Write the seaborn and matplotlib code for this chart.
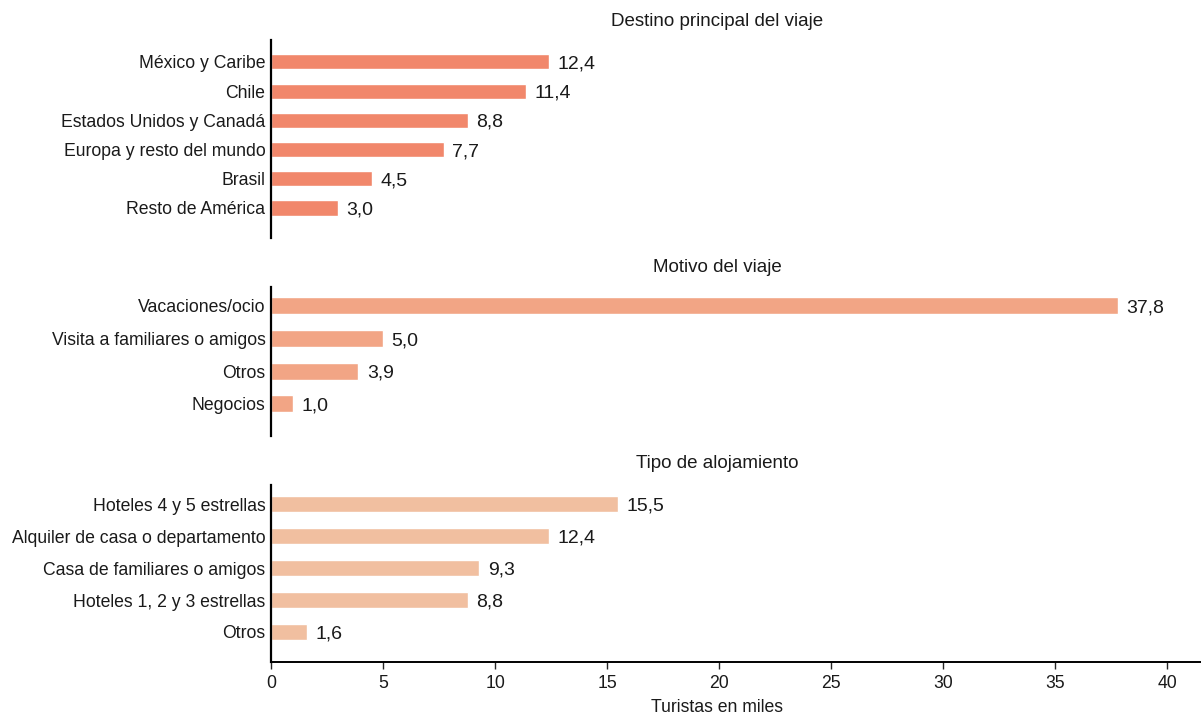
import matplotlib
matplotlib.use('Agg')
import matplotlib.pyplot as plt
import seaborn as sns

# Data (turistas en miles)
destino_cats = ['México y Caribe', 'Chile', 'Estados Unidos y Canadá',
                'Europa y resto del mundo', 'Brasil', 'Resto de América']
destino_vals = [12.4, 11.4, 8.8, 7.7, 4.5, 3.0]

motivo_cats = ['Vacaciones/ocio', 'Visita a familiares o amigos', 'Otros', 'Negocios']
motivo_vals = [37.8, 5.0, 3.9, 1.0]

aloj_cats = ['Hoteles 4 y 5 estrellas', 'Alquiler de casa o departamento',
             'Casa de familiares o amigos', 'Hoteles 1, 2 y 3 estrellas', 'Otros']
aloj_vals = [15.5, 12.4, 9.3, 8.8, 1.6]

titles = ['Destino principal del viaje', 'Motivo del viaje', 'Tipo de alojamiento']
colors = ['#F1876B', '#F2A585', '#F1BFA0']
x_ticks = [0, 5, 10, 15, 20, 25, 30, 35, 40]

sns.set_style('white')
plt.rcParams['font.family'] = ['Liberation Sans', 'DejaVu Sans']
plt.rcParams['font.size'] = 12.7

W, H = 1201, 716
fig = plt.figure(figsize=(W / 100, H / 100), dpi=100)

# panel geometry in pixels: (top, bottom, ylim_bottom, ylim_top, title_y)
panels = [
    (destino_cats, destino_vals, 40, 238, 6.03, -0.75, 22),
    (motivo_cats, motivo_vals, 287, 436, 3.98, -0.58, 267),
    (aloj_cats, aloj_vals, 485, 662, 4.94, -0.6, 464),
]

left = 271 / W
for i, (cats, vals, top, bottom, yb, yt, ty) in enumerate(panels):
    ax = fig.add_axes([left, 1 - bottom / H, 1 - left, (bottom - top) / H])
    sns.barplot(x=vals, y=cats, ax=ax, color=colors[i], width=0.52,
                orient='h', saturation=1)
    ax.set_xlim(0, 41.5)
    ax.set_ylim(yb, yt)
    txts = ax.bar_label(ax.containers[0],
                        labels=[f'{v:.1f}'.replace('.', ',') for v in vals],
                        padding=6, fontsize=14, color='#1a1a1a')
    for t in txts:
        t.set_va('center_baseline')
    for s in ['top', 'right']:
        ax.spines[s].set_visible(False)
    ax.spines['left'].set_linewidth(1.6)
    ax.spines['left'].set_color('black')
    ax.tick_params(axis='y', length=0, pad=4, labelcolor='#1a1a1a', labelsize=12.7)
    ax.set_ylabel('')
    fig.text(717 / W, 1 - ty / H, titles[i], ha='center', va='center',
             fontsize=13.5, color='#1a1a1a')
    if i < 2:
        ax.spines['bottom'].set_visible(False)
        ax.set_xticks([])
    else:
        ax.spines['bottom'].set_linewidth(1.4)
        ax.spines['bottom'].set_color('black')
        ax.set_xticks(x_ticks)
        ax.tick_params(axis='x', direction='out', length=5, width=1,
                       bottom=True, pad=4, labelcolor='#1a1a1a', labelsize=12.7)
        ax.set_xlabel('')

fig.text(717 / W, 1 - 708 / H, 'Turistas en miles', ha='center', va='center',
         fontsize=12.7, color='#1a1a1a')

fig.savefig('out.png', dpi=100)
